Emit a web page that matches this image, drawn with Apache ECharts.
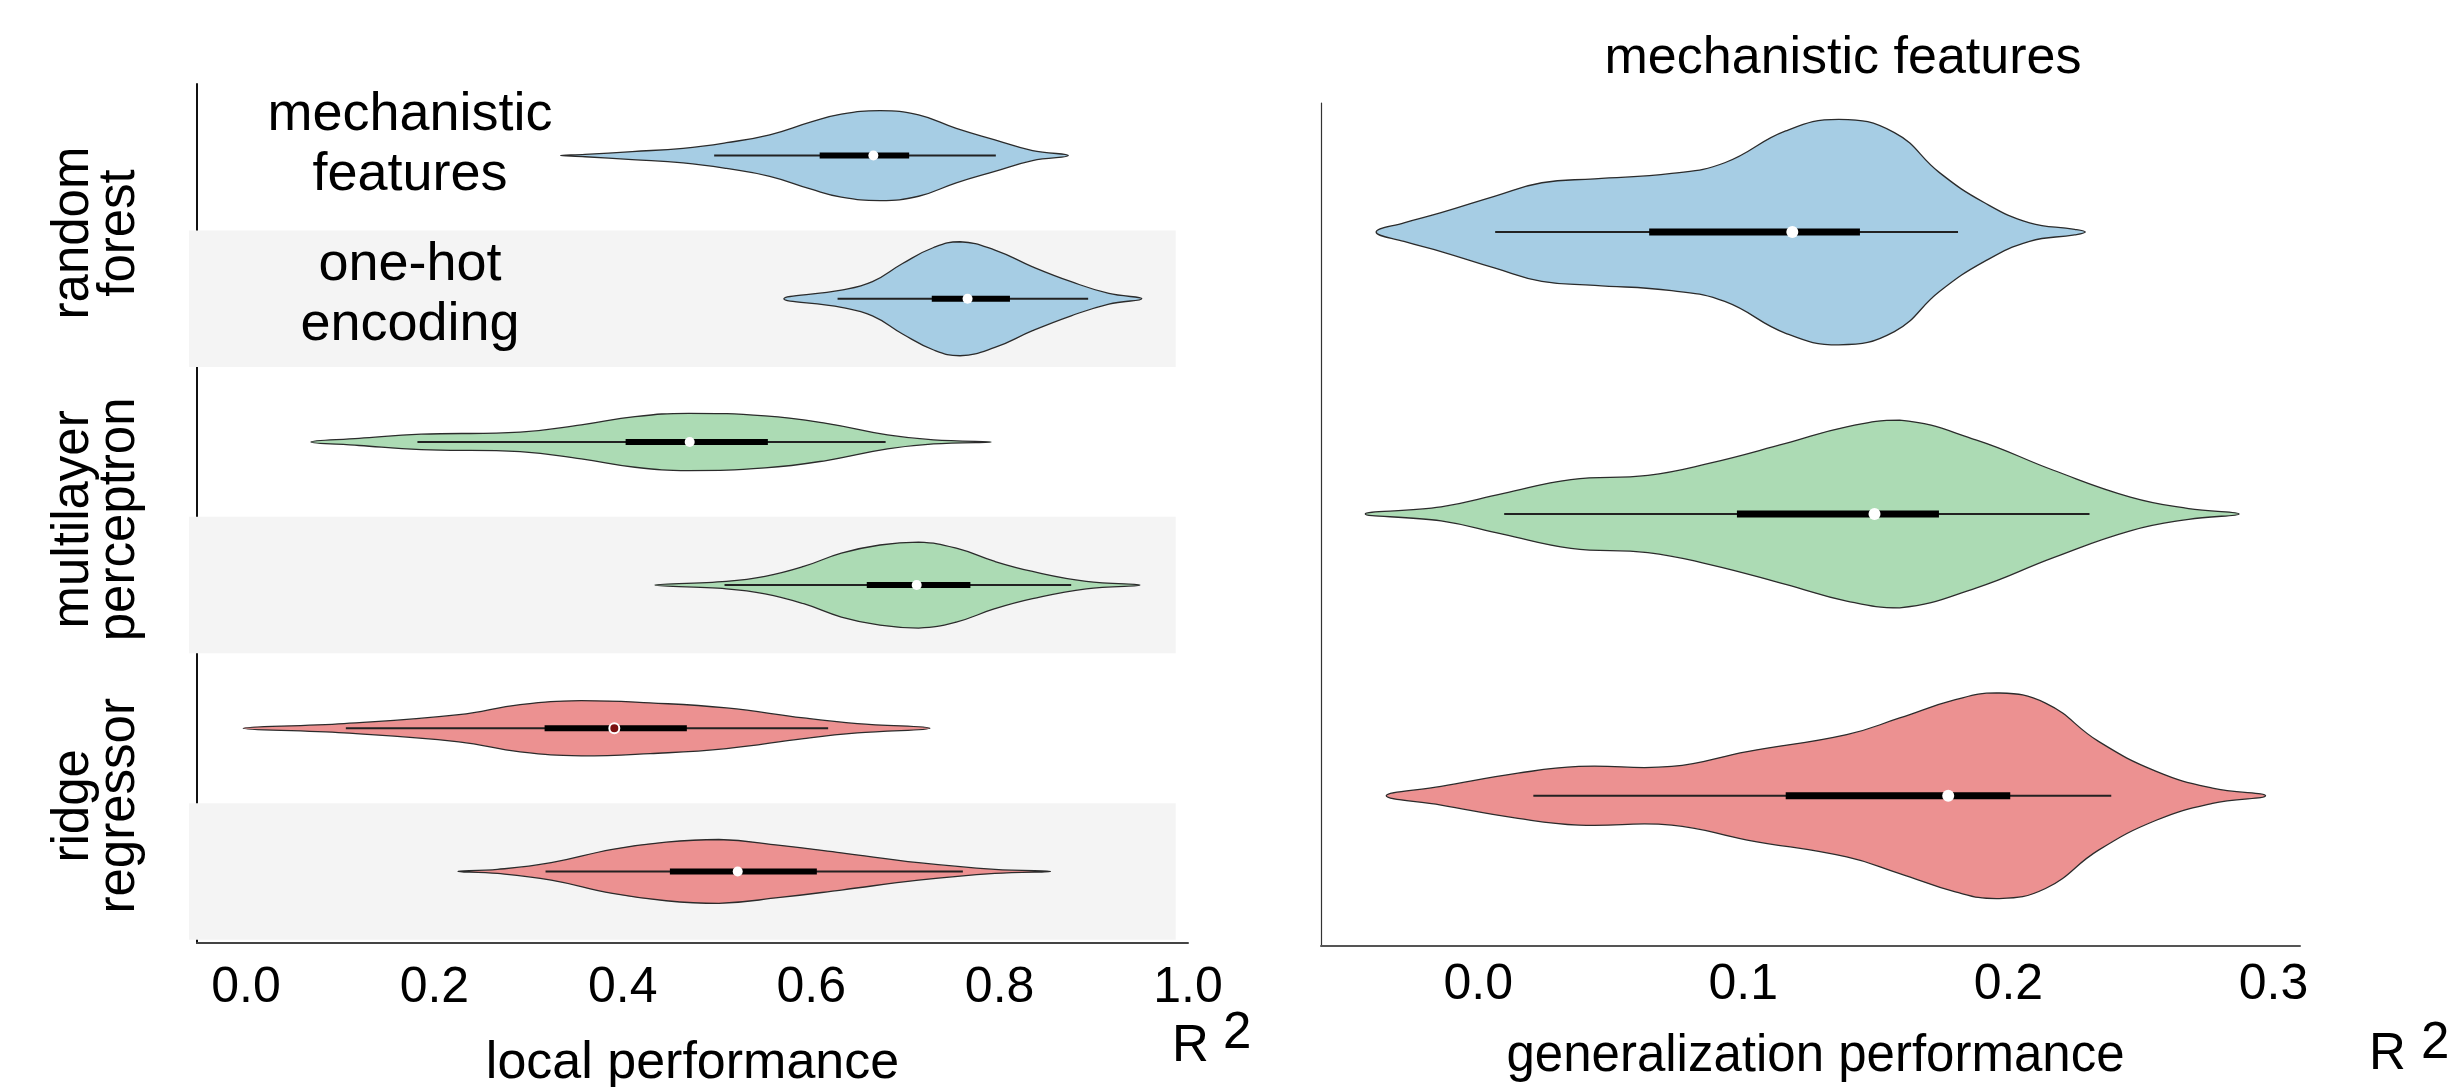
<!DOCTYPE html>
<html><head><meta charset="utf-8">
<script src="https://cdn.jsdelivr.net/npm/echarts@6/dist/echarts.min.js"></script>
<style>html,body{margin:0;padding:0;background:#fff}#c{width:2461px;height:1087px}</style>
</head><body><div id="c"></div><script>
// ---------------- data ----------------
const modelLabels = ['random\nforest', 'multilayer\nperceptron', 'ridge\nregressor'];
const featureLabels = ['mechanistic\nfeatures', 'one-hot\nencoding'];
const localRows = [0, 1, 2, 3, 4, 5];       // RF-mech, RF-onehot, MLP-mech, MLP-onehot, ridge-mech, ridge-onehot
const generalRows = [0, 1, 2];              // RF, MLP, ridge (mechanistic features)
const localTicks = [0, 0.2, 0.4, 0.6, 0.8, 1.0];
const generalTicks = [0, 0.1, 0.2, 0.3];
const shadedRows = [1, 3, 5];

// density outlines: R2 value and half-width (category units)
const rfMechX = [0.334, 0.36, 0.41, 0.464, 0.51, 0.556, 0.600, 0.632, 0.673, 0.714, 0.754, 0.795, 0.835, 0.873];
const rfMechW = [0, 0.008, 0.028, 0.051, 0.09, 0.145, 0.235, 0.29, 0.314, 0.284, 0.19, 0.11, 0.035, 0];
const rfHotX = [0.571, 0.632, 0.665, 0.697, 0.730, 0.758, 0.795, 0.835, 0.876, 0.916, 0.951];
const rfHotW = [0, 0.06, 0.119, 0.246, 0.358, 0.398, 0.34, 0.223, 0.119, 0.037, 0];
const mlpMechX = [0.069, 0.12, 0.186, 0.291, 0.356, 0.413, 0.470, 0.551, 0.616, 0.681, 0.73, 0.791];
const mlpMechW = [0, 0.025, 0.054, 0.068, 0.119, 0.177, 0.2, 0.182, 0.13, 0.049, 0.014, 0];
const mlpHotX = [0.434, 0.51, 0.551, 0.592, 0.632, 0.673, 0.714, 0.754, 0.795, 0.835, 0.892, 0.949];
const mlpHotW = [0, 0.026, 0.061, 0.13, 0.223, 0.28, 0.30, 0.258, 0.165, 0.095, 0.026, 0];
const ridgeMechX = [-0.003, 0.104, 0.226, 0.291, 0.356, 0.429, 0.51, 0.592, 0.649, 0.726];
const ridgeMechW = [0, 0.033, 0.095, 0.165, 0.193, 0.177, 0.142, 0.072, 0.033, 0];
const ridgeHotX = [0.225, 0.267, 0.324, 0.389, 0.446, 0.502, 0.567, 0.632, 0.714, 0.795, 0.854];
const ridgeHotW = [0, 0.014, 0.061, 0.154, 0.205, 0.223, 0.182, 0.13, 0.061, 0.014, 0];

const genRfX = [-0.0385, -0.028, -0.014, 0.0064, 0.024, 0.044, 0.073, 0.093, 0.116, 0.136, 0.157, 0.174, 0.191, 0.208, 0.225, 0.229];
const genRfW = [0, 0.033, 0.069, 0.128, 0.175, 0.189, 0.208, 0.246, 0.359, 0.40, 0.353, 0.211, 0.104, 0.033, 0.01, 0];
const genMlpX = [-0.0426, -0.014, 0.0092, 0.035, 0.064, 0.087, 0.116, 0.139, 0.159, 0.188, 0.217, 0.246, 0.268, 0.287];
const genMlpW = [0, 0.025, 0.072, 0.122, 0.137, 0.179, 0.25, 0.309, 0.333, 0.262, 0.155, 0.06, 0.019, 0];
const genRidgeX = [-0.0347, -0.014, 0.015, 0.038, 0.073, 0.1015, 0.139, 0.159, 0.180, 0.1955, 0.214, 0.234, 0.256, 0.277, 0.297];
const genRidgeW = [0, 0.033, 0.08, 0.104, 0.104, 0.157, 0.217, 0.276, 0.341, 0.365, 0.329, 0.193, 0.086, 0.027, 0];

// inner box statistics
const localWhiskerLow = [0.497, 0.628, 0.182, 0.508, 0.106, 0.318];
const localQ1 = [0.609, 0.728, 0.403, 0.659, 0.317, 0.450];
const localMedian = [0.666, 0.766, 0.471, 0.712, 0.391, 0.522];
const localQ3 = [0.704, 0.811, 0.554, 0.769, 0.468, 0.606];
const localWhiskerHigh = [0.796, 0.894, 0.679, 0.876, 0.618, 0.761];

const genWhiskerLow = [0.0064, 0.0098, 0.0208];
const genQ1 = [0.0645, 0.0976, 0.116];
const genMedian = [0.1185, 0.1495, 0.1773];
const genQ3 = [0.144, 0.1738, 0.2007];
const genWhiskerHigh = [0.181, 0.2306, 0.2388];

// ---------------- styles ----------------
const BLUE = '#a6cde4', GREEN = '#acdbb4', RED = '#ec9191';
const localColors = [BLUE, BLUE, GREEN, GREEN, RED, RED];
const genColors = [BLUE, GREEN, RED];
const FONT = '"Liberation Sans", Arial, Helvetica, sans-serif';

const localXs = [rfMechX, rfHotX, mlpMechX, mlpHotX, ridgeMechX, ridgeHotX];
const localWs = [rfMechW, rfHotW, mlpMechW, mlpHotW, ridgeMechW, ridgeHotW];
const genXs = [genRfX, genMlpX, genRidgeX];
const genWs = [genRfW, genMlpW, genRidgeW];

function violinRenderer(xsList, wsList, lo, q1, med, q3, hi, colors, sizes) {
  return function (params, api) {
    const i = params.dataIndex;
    const row = api.value(1);
    const xs = xsList[i], ws = wsList[i];
    const pts = [];
    for (let k = 0; k < xs.length; k++) pts.push(api.coord([xs[k], row - ws[k]]));
    for (let k = xs.length - 2; k >= 1; k--) pts.push(api.coord([xs[k], row + ws[k]]));
    let minP = [Infinity, Infinity], maxP = [-Infinity, -Infinity];
    pts.forEach(p => { minP = [Math.min(minP[0], p[0]), Math.min(minP[1], p[1])]; maxP = [Math.max(maxP[0], p[0]), Math.max(maxP[1], p[1])]; });
    const a = api.coord([lo[i], row]), b = api.coord([hi[i], row]);
    const c = api.coord([q1[i], row]), d = api.coord([q3[i], row]);
    const m = api.coord([med[i], row]);
    const special = sizes.darkMedian === i;
    return {
      type: 'group',
      children: [
        { type: 'polygon', shape: { points: pts, smooth: 0.45, smoothConstraint: [minP, maxP] },
          style: { fill: colors[i], stroke: '#2b2b2b', lineWidth: 1.3 } },
        { type: 'line', shape: { x1: a[0], y1: a[1], x2: b[0], y2: b[1] },
          style: { stroke: '#222', lineWidth: sizes.whisker } },
        { type: 'line', shape: { x1: c[0], y1: c[1], x2: d[0], y2: d[1] },
          style: { stroke: '#000', lineWidth: sizes.box, lineCap: 'butt' } },
        { type: 'circle', shape: { cx: m[0], cy: m[1], r: sizes.dot },
          style: special ? { fill: '#7a1010', stroke: '#fff', lineWidth: 2 } : { fill: '#fff' } }
      ]
    };
  };
}

const chart = echarts.init(document.getElementById('c'));
const tickFmt = v => (Math.round(v * 10) / 10).toFixed(1);

const graphics = [];
featureLabels.forEach((t, i) => {
  graphics.push({ type: 'text', x: 410, y: 145 + i * 150, z: 10,
    style: { text: t, font: '54px ' + FONT, fill: '#000', align: 'center', verticalAlign: 'middle', lineHeight: 60 } });
});
modelLabels.forEach((t, i) => {
  graphics.push({ type: 'text', x: 97, y: 233 + i * 286.4, rotation: Math.PI / 2, z: 10,
    style: { text: t, font: '51px ' + FONT, fill: '#000', align: 'center', verticalAlign: 'middle', lineHeight: 46 } });
});
// R^2 unit labels
graphics.push({ type: 'text', x: 1172, y: 1047, z: 10, style: { text: 'R', font: '51px ' + FONT, fill: '#000', align: 'left', verticalAlign: 'middle' } });
graphics.push({ type: 'text', x: 1223, y: 1034, z: 10, style: { text: '2', font: '51px ' + FONT, fill: '#000', align: 'left', verticalAlign: 'middle' } });
graphics.push({ type: 'text', x: 2369, y: 1055, z: 10, style: { text: 'R', font: '51px ' + FONT, fill: '#000', align: 'left', verticalAlign: 'middle' } });
graphics.push({ type: 'text', x: 2421, y: 1044, z: 10, style: { text: '2', font: '51px ' + FONT, fill: '#000', align: 'left', verticalAlign: 'middle' } });

const option = {
  animation: false,
  backgroundColor: '#fff',
  textStyle: { fontFamily: FONT },
  title: { text: 'mechanistic features', left: 1843, top: 33, padding: 0, textAlign: 'center',
    textStyle: { fontSize: 52, fontWeight: 'normal', color: '#000', fontFamily: FONT } },
  grid: [
    { left: 197, top: 84, width: 991, height: 859, containLabel: false, outerBoundsMode: 'none' },
    { left: 1321, top: 103, width: 979, height: 843, containLabel: false, outerBoundsMode: 'none' }
  ],
  xAxis: [
    { type: 'value', gridIndex: 0, min: -0.052, max: 1.0,
      name: 'local performance', nameLocation: 'middle', nameGap: 95,
      nameTextStyle: { fontSize: 52, color: '#000', fontFamily: FONT },
      axisLine: { show: true, onZero: false, lineStyle: { color: '#444', width: 2 } },
      axisTick: { show: false }, splitLine: { show: false },
      axisLabel: { customValues: localTicks, formatter: tickFmt, fontSize: 50, color: '#000', margin: 20, fontFamily: FONT } },
    { type: 'value', gridIndex: 1, min: -0.0593, max: 0.310,
      name: 'generalization performance', nameLocation: 'middle', nameGap: 85,
      nameTextStyle: { fontSize: 51, color: '#000', fontFamily: FONT, padding: [0, 0, 0, 10] },
      axisLine: { show: true, onZero: false, lineStyle: { color: '#555', width: 2 } },
      axisTick: { show: false }, splitLine: { show: false },
      axisLabel: { customValues: generalTicks, formatter: tickFmt, fontSize: 50, color: '#000', margin: 14, fontFamily: FONT } }
  ],
  yAxis: [
    { type: 'value', gridIndex: 0, inverse: true, min: -0.5, max: 5.5,
      axisLine: { show: true, onZero: false, lineStyle: { color: '#111', width: 2 } },
      axisTick: { show: false }, axisLabel: { show: false }, splitLine: { show: false } },
    { type: 'value', gridIndex: 1, inverse: true, min: -0.458, max: 2.533,
      axisLine: { show: true, onZero: false, lineStyle: { color: '#333', width: 1.2 } },
      axisTick: { show: false }, axisLabel: { show: false }, splitLine: { show: false } }
  ],
  graphic: graphics,
  series: [
    { type: 'custom', xAxisIndex: 0, yAxisIndex: 0, silent: true, clip: false, z: 1,
      data: shadedRows.map(r => [0.5, r]), encode: { x: 0, y: 1 },
      renderItem: function (params, api) {
        const row = api.value(1);
        const p1 = api.coord([-0.0605, row - 0.477]);
        const p2 = api.coord([0.987, row + 0.477]);
        return { type: 'rect', shape: { x: p1[0], y: p1[1], width: p2[0] - p1[0], height: p2[1] - p1[1] },
          style: { fill: '#f4f4f4' } };
      } },
    { type: 'custom', xAxisIndex: 0, yAxisIndex: 0, silent: true, z: 2,
      data: localRows.map(r => [localMedian[r], r]), encode: { x: 0, y: 1 },
      renderItem: violinRenderer(localXs, localWs, localWhiskerLow, localQ1, localMedian, localQ3, localWhiskerHigh,
        localColors, { whisker: 2, box: 6, dot: 5, darkMedian: 4 }) },
    { type: 'custom', xAxisIndex: 1, yAxisIndex: 1, silent: true, z: 2,
      data: generalRows.map(r => [genMedian[r], r]), encode: { x: 0, y: 1 },
      renderItem: violinRenderer(genXs, genWs, genWhiskerLow, genQ1, genMedian, genQ3, genWhiskerHigh,
        genColors, { whisker: 2, box: 7, dot: 6, darkMedian: -1 }) }
  ]
};
chart.setOption(option);
</script></body></html>
